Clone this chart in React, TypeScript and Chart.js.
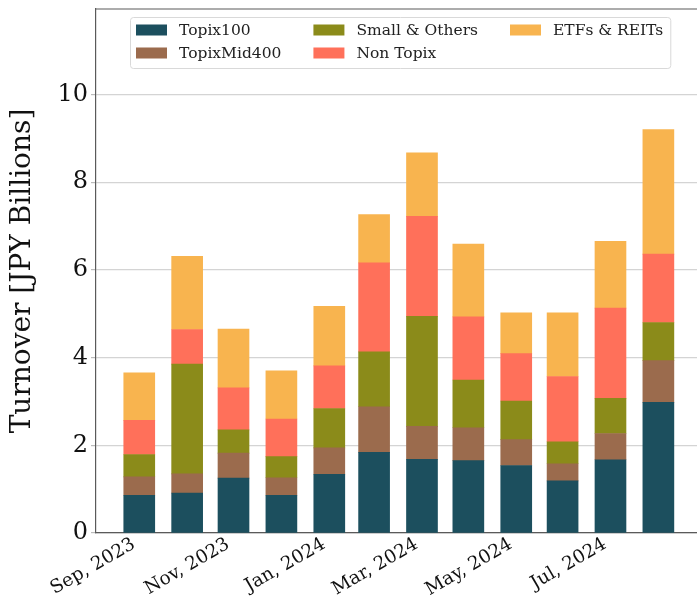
import React, { useEffect, useRef } from "react";
import { Chart, registerables } from "chart.js";

Chart.register(...registerables);

// Months (bar placed at the month-end date on a day-based linear axis)
const months = [
  "2023-09", "2023-10", "2023-11", "2023-12", "2024-01", "2024-02",
  "2024-03", "2024-04", "2024-05", "2024-06", "2024-07", "2024-08",
];
const tickLabels = [
  "Sep, 2023", "", "Nov, 2023", "", "Jan, 2024", "",
  "Mar, 2024", "", "May, 2024", "", "Jul, 2024", "",
];

const seriesNames = ["Topix100", "TopixMid400", "Small & Others", "Non Topix", "ETFs & REITs"];
const seriesColors = ["#1c4f5e", "#9b6b4d", "#8b8b1a", "#ff705a", "#f8b44f"];

const topix100 = [0.86, 0.91, 1.25, 0.86, 1.34, 1.84, 1.68, 1.65, 1.54, 1.19, 1.67, 2.98];
const topixMid400 = [0.42, 0.44, 0.57, 0.40, 0.60, 1.04, 0.75, 0.75, 0.59, 0.39, 0.60, 0.95];
const smallOthers = [0.51, 2.50, 0.53, 0.48, 0.90, 1.25, 2.51, 1.09, 0.88, 0.50, 0.80, 0.87];
const nonTopix = [0.78, 0.79, 0.96, 0.86, 0.97, 2.03, 2.28, 1.44, 1.08, 1.49, 2.06, 1.56];
const etfsReits = [1.08, 1.67, 1.34, 1.10, 1.36, 1.10, 1.45, 1.66, 0.93, 1.45, 1.52, 2.84];

const yTicks = [0, 2, 4, 6, 8, 10];

const FONT = '"DejaVu Serif", serif';
const DAY = 86400000;

function monthEndDay(m: string): number {
  const [y, mo] = m.split("-").map(Number);
  const origin = Date.UTC(2023, 8, 30);
  return Math.round((Date.UTC(y, mo, 0) - origin) / DAY);
}

const xVals = months.map(monthEndDay);

const legendPlugin = {
  id: "customLegend",
  afterDraw(chart: any) {
    const ctx = chart.ctx as CanvasRenderingContext2D;
    ctx.save();
    ctx.font = `15.5px ${FONT}`;
    const cols = [[0, 1], [2, 3], [4]];
    const startX = 136;
    const rowY = [30, 53];
    const swW = 31, swH = 11, gap = 12, colGap = 32;
    const colX: number[] = [];
    let x = startX;
    cols.forEach((col) => {
      colX.push(x);
      const w = Math.max(...col.map((i) => ctx.measureText(seriesNames[i]).width));
      x += swW + gap + w + colGap;
    });
    const left = startX - 6;
    const right = x - colGap + 7;
    const top = 17, bottom = 68;
    ctx.beginPath();
    ctx.roundRect(left + 0.5, top + 0.5, right - left, bottom - top, 3);
    ctx.fillStyle = "rgba(255,255,255,0.8)";
    ctx.fill();
    ctx.strokeStyle = "#d9d9d9";
    ctx.lineWidth = 1;
    ctx.stroke();
    ctx.textBaseline = "middle";
    ctx.textAlign = "left";
    cols.forEach((col, ci) => {
      col.forEach((si, ri) => {
        const cy = rowY[ri];
        ctx.fillStyle = seriesColors[si];
        ctx.fillRect(colX[ci], cy - swH / 2, swW, swH);
        ctx.fillStyle = "#222";
        ctx.fillText(seriesNames[si], colX[ci] + swW + gap, cy + 1);
      });
    });
    ctx.restore();
  },
};

const topSpinePlugin = {
  id: "topSpine",
  afterDraw(chart: any) {
    const { ctx, chartArea } = chart;
    ctx.save();
    ctx.strokeStyle = "#5a5a5a";
    ctx.lineWidth = 1.2;
    ctx.beginPath();
    ctx.moveTo(chartArea.left, chartArea.top);
    ctx.lineTo(chartArea.right, chartArea.top);
    ctx.stroke();
    ctx.restore();
  },
};

// Rotated x tick labels, right-aligned to the tick like matplotlib
const xLabelPlugin = {
  id: "xLabels",
  afterDraw(chart: any) {
    const ctx = chart.ctx as CanvasRenderingContext2D;
    const xs = chart.scales.x;
    const bottom = chart.chartArea.bottom;
    ctx.save();
    ctx.font = `18.5px ${FONT}`;
    ctx.fillStyle = "#111";
    ctx.textAlign = "right";
    ctx.textBaseline = "top";
    tickLabels.forEach((lab, i) => {
      if (!lab) return;
      const px = xs.getPixelForValue(xVals[i]);
      ctx.save();
      ctx.translate(px - 10, bottom + 2);
      ctx.rotate(-Math.PI / 6);
      ctx.fillText(lab, 0, 0);
      ctx.restore();
    });
    ctx.restore();
  },
};

export default function App() {
  const ref = useRef<HTMLCanvasElement | null>(null);

  useEffect(() => {
    if (!ref.current) return;
    const allSeries = [topix100, topixMid400, smallOthers, nonTopix, etfsReits];
    const chart = new Chart(ref.current, {
      type: "bar",
      data: {
        datasets: allSeries.map((vals, i) => ({
          label: seriesNames[i],
          data: vals.map((v, j) => ({ x: xVals[j], y: v })),
          backgroundColor: seriesColors[i],
          borderWidth: 0,
          barThickness: 31,
        })),
      },
      options: {
        animation: false,
        responsive: false,
        maintainAspectRatio: false,
        layout: { padding: { top: 9, left: 0, right: 0, bottom: 0 } },
        plugins: {
          legend: { display: false },
          tooltip: { enabled: false },
        },
        scales: {
          x: {
            type: "linear",
            stacked: true,
            min: -28,
            max: 361,
            offset: false,
            grid: { display: false },
            border: { display: true, color: "#5a5a5a", width: 1.2 },
            afterFit: (scale: any) => {
              scale.height = 73;
              scale.paddingLeft = 0;
              scale.paddingRight = 0;
            },
            ticks: { display: false },
          },
          y: {
            stacked: true,
            min: 0,
            max: 11.95,
            grid: { color: "#d4d4d4", lineWidth: 1.2, tickLength: 5, tickColor: "#bbbbbb" },
            border: { display: true, color: "#5a5a5a", width: 1.2 },
            afterBuildTicks: (scale: any) => {
              scale.ticks = yTicks.map((v) => ({ value: v }));
            },
            afterFit: (scale: any) => {
              scale.width = 96;
              scale.paddingTop = 0;
              scale.paddingBottom = 0;
            },
            ticks: {
              includeBounds: false,
              color: "#111",
              font: { family: FONT, size: 24 },
              padding: 3,
              callback: (v: any) => String(v),
            },
            title: {
              display: true,
              text: "Turnover [JPY Billions]",
              color: "#111",
              font: { family: FONT, size: 28 },
              padding: { top: 6, bottom: 0 },
            },
          },
        },
      },
      plugins: [topSpinePlugin, legendPlugin, xLabelPlugin],
    });
    return () => chart.destroy();
  }, []);

  return (
    <div style={{ position: "fixed", left: 0, top: 0, width: 697, height: 606, background: "#fff" }}>
      <canvas ref={ref} width={697} height={606} style={{ width: 697, height: 606, display: "block" }} />
    </div>
  );
}
